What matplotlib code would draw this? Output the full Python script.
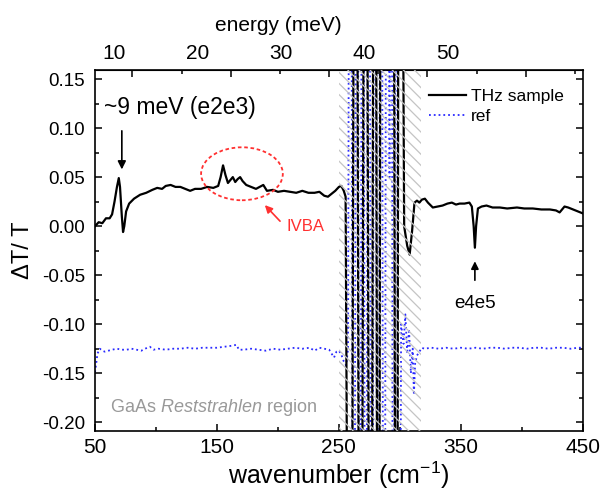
import matplotlib
matplotlib.use('Agg')
import matplotlib.pyplot as plt
from matplotlib.patches import Rectangle, Ellipse
from matplotlib.ticker import MultipleLocator

plt.rcParams['font.family'] = ['Liberation Sans', 'DejaVu Sans']
plt.rcParams['mathtext.fontset'] = 'custom'
plt.rcParams['mathtext.rm'] = 'Liberation Sans'
plt.rcParams['mathtext.it'] = 'Liberation Sans:italic'
plt.rcParams['axes.unicode_minus'] = False
plt.rcParams['hatch.linewidth'] = 0.9
plt.rcParams['hatch.color'] = '#c4c4c4'

# THz sample (wavenumber cm-1, dT/T); +-1 values are the off-scale swings in the Reststrahlen band
sample_wn = [50, 53, 56, 59, 62, 64, 66, 68, 69.5, 70.5, 72, 73, 74, 75.5, 78, 82, 87, 92, 97,
             101, 105, 108, 112, 116, 120, 124, 128, 132, 137, 142, 147, 151, 153, 155, 157,
             159, 161, 163, 165, 167, 169, 171, 174, 178, 182, 185, 188, 191, 196, 200, 205,
             210, 215, 220, 225, 230, 234, 238, 241, 244, 247, 250, 252, 254, 255.5,
             259.5, 263.6, 267.7, 271.8, 275.9, 279.5, 282.3, 285, 294, 297.2, 299.6,
             303.5, 306, 308, 310, 312, 314, 316, 318, 320.5, 323, 327, 331, 335, 339, 342.6,
             346, 349, 353, 357, 359, 360.5, 361.5, 362.5, 364, 367, 371, 376, 382, 388, 396,
             402, 409, 416, 423, 428, 431, 433, 435, 438, 442, 446, 450]
sample_dt = [0.000, 0.004, 0.003, 0.008, 0.008, 0.012, 0.025, 0.040, 0.049, 0.040, 0.010, -0.006,
             0.000, 0.015, 0.023, 0.028, 0.032, 0.034, 0.037, 0.039, 0.038, 0.041, 0.042, 0.040,
             0.040, 0.038, 0.036, 0.038, 0.038, 0.040, 0.039, 0.041, 0.050, 0.062, 0.052, 0.044,
             0.047, 0.050, 0.045, 0.048, 0.050, 0.046, 0.042, 0.040, 0.038, 0.040, 0.042, 0.036,
             0.037, 0.035, 0.036, 0.035, 0.034, 0.036, 0.034, 0.034, 0.035, 0.031, 0.030, 0.033,
             0.036, 0.040, 0.041, 0.036, 0.030,
             -1.0, 1.0, -1.0, 1.0, -1.0, 1.0, -1.0, 1.0, 1.0, -1.0, 1.0,
             0.000, -0.020, -0.029, -0.005, 0.024, 0.026, 0.024, 0.027, 0.028, 0.024, 0.019,
             0.020, 0.021, 0.023, 0.024, 0.022, 0.023, 0.023, 0.024, 0.020, 0.000, -0.022, 0.000,
             0.018, 0.020, 0.021, 0.019, 0.019, 0.018, 0.019, 0.018, 0.018, 0.017, 0.017, 0.016,
             0.014, 0.017, 0.020, 0.019, 0.017, 0.015, 0.013]

# reference
ref_wn = [50, 51, 52, 54, 56, 58, 61, 64, 68, 72, 76, 80, 84, 88, 91, 95, 98, 102, 108, 114, 120,
          126, 132, 138, 144, 150, 156, 162, 166, 168, 172, 178, 184, 190, 196, 202, 208, 214,
          220, 226, 230, 234, 238, 242, 244, 246, 248, 250, 252, 254, 256, 257.5,
          259.5, 262, 265, 267, 269.5, 272, 274.5, 277, 279.5, 282, 284.5, 287, 289.5, 291.5,
          293, 294.5, 297, 299, 301, 303, 304.5, 306, 307.5, 309, 310.5, 311.5, 312.5, 314,
          316, 318, 320, 326, 332, 338, 344, 350, 356, 362, 368, 374, 380, 386, 392, 398, 404,
          410, 416, 422, 428, 434, 440, 446, 450]
ref_dt = [-0.149, -0.140, -0.130, -0.125, -0.127, -0.128, -0.127, -0.126, -0.125, -0.126, -0.126,
          -0.125, -0.126, -0.127, -0.125, -0.123, -0.126, -0.125, -0.126, -0.125, -0.125, -0.124,
          -0.125, -0.124, -0.124, -0.124, -0.123, -0.122, -0.121, -0.126, -0.126, -0.125, -0.126,
          -0.127, -0.125, -0.126, -0.125, -0.124, -0.125, -0.124, -0.127, -0.124, -0.125, -0.126,
          -0.130, -0.134, -0.128, -0.127, -0.131, -0.138, -0.142, -0.125,
          1.0, -1.0, 1.0, -1.0, 1.0, -1.0, 1.0, -1.0, 1.0, -1.0, 1.0, -1.0, 1.0, 0.05,
          1.0, -1.0, 1.0, -1.0, -0.10, -0.12, -0.09, -0.13, -0.105, -0.15, -0.125, -0.172, -0.14,
          -0.132, -0.128, -0.124, -0.125, -0.124, -0.125, -0.124, -0.125, -0.124, -0.125, -0.124,
          -0.125, -0.124, -0.124, -0.125, -0.124, -0.124, -0.125, -0.124, -0.124, -0.125, -0.124,
          -0.124, -0.125, -0.124, -0.124]

wn_ticks = [50, 150, 250, 350, 450]
rest_band = (250, 317)
energy_labels = [10, 20, 30, 40, 50]
CM_PER_MEV = 8.0655
red = '#ff3030'

fig = plt.figure(figsize=(6.09, 4.91), dpi=100)
ax = fig.add_axes([0.156, 0.122, 0.801, 0.735])

ax.plot(sample_wn, sample_dt, color='black', lw=1.6, label='THz sample', zorder=3)
ax.plot(ref_wn, ref_dt, color='#2a2aff', lw=1.3, ls=':', label='ref', zorder=2)
ax.add_patch(Rectangle((rest_band[0], -1), rest_band[1] - rest_band[0], 2, fill=False,
                       hatch='\\\\\\', edgecolor='#c4c4c4', lw=0, zorder=4))

ax.set_xlim(50, 450)
ax.set_ylim(-0.209, 0.159)
ax.set_xticks(wn_ticks)
ax.xaxis.set_minor_locator(MultipleLocator(50))
ax.yaxis.set_major_locator(MultipleLocator(0.05))
ax.yaxis.set_minor_locator(MultipleLocator(0.025))
ax.yaxis.set_major_formatter(plt.FormatStrFormatter('%.2f'))
ax.tick_params(which='both', direction='in', top=False, right=True, width=1.1)
ax.tick_params(which='major', length=5)
ax.tick_params(which='minor', length=3)
ax.tick_params(axis='x', labelsize=15, pad=5)
ax.tick_params(axis='y', labelsize=13.5, pad=7)
for s in ax.spines.values():
    s.set_linewidth(1.2)

ax.set_xlabel('wavenumber (cm$^{-1}$)', fontsize=18, labelpad=2)
ax.set_ylabel('ΔT/ T', fontsize=17, labelpad=6)

# top energy axis: ticks at true positions
sec = ax.secondary_xaxis('top', functions=(lambda x: x / CM_PER_MEV, lambda e: e * CM_PER_MEV))
sec.xaxis.set_major_locator(MultipleLocator(10))
sec.xaxis.set_minor_locator(MultipleLocator(5))
sec.tick_params(which='both', direction='in', labeltop=False, width=1.1)
sec.tick_params(which='major', length=5)
sec.tick_params(which='minor', length=3)

# top energy labels as printed in the figure
lab = ax.twiny()
lab.set_xlim(7.72, 66.17)
lab.set_xticks(energy_labels)
lab.tick_params(length=0, labelsize=15, pad=5)
lab.set_frame_on(False)
lab.set_xlabel('energy (meV)', fontsize=15)
lab.xaxis.set_label_coords(0.375, 1.11)

ax.legend(loc='upper right', frameon=False, fontsize=12.5, handlelength=2.1,
          handletextpad=0.3, labelspacing=0.25, borderaxespad=0.7)

ax.annotate('', xy=(72, 0.055), xytext=(72, 0.100),
            arrowprops=dict(arrowstyle='-|>', color='black', lw=1.2, mutation_scale=12))
ax.text(119.7, 0.121, '~9 meV (e2e3)', fontsize=16.5, ha='center', va='center')

ax.add_patch(Ellipse((170.5, 0.0534), 67, 0.054, fill=False, edgecolor=red, lw=1.3,
                     ls=(0, (2, 1.5)), zorder=5))
ax.annotate('', xy=(187.7, 0.0235), xytext=(203.3, 0.003),
            arrowprops=dict(arrowstyle='-|>', color=red, lw=1.2, mutation_scale=11))
ax.text(207.4, 0.0, 'IVBA', color=red, fontsize=12, ha='left', va='center')

ax.annotate('', xy=(361.5, -0.033), xytext=(361.5, -0.058),
            arrowprops=dict(arrowstyle='-|>', color='black', lw=1.2, mutation_scale=11))
ax.text(361.5, -0.079, 'e4e5', fontsize=13.5, ha='center', va='center')

ax.text(62.3, -0.185, 'GaAs $\\mathit{Reststrahlen}$ region', color='#999999', fontsize=13,
        ha='left', va='center')

fig.savefig('out.png', dpi=100)
